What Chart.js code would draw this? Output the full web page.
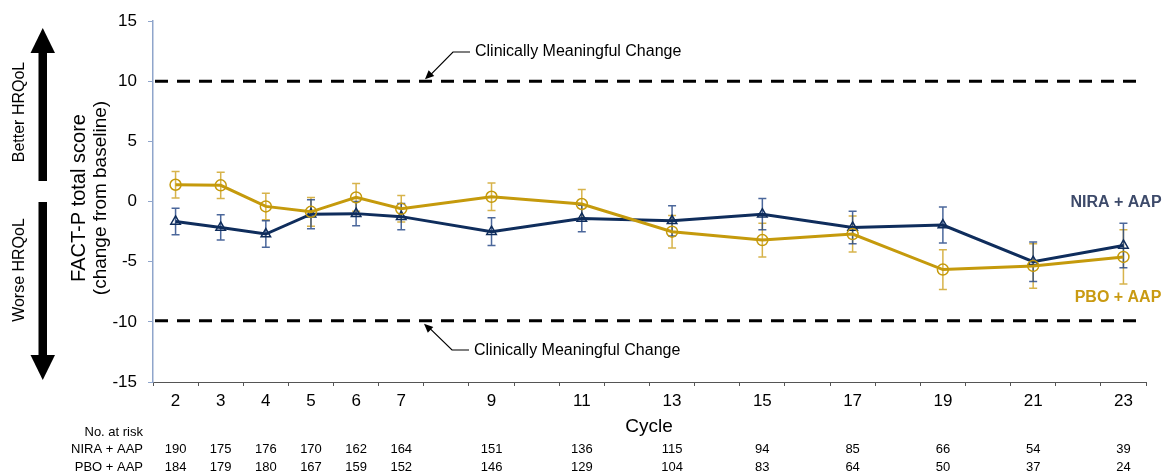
<!DOCTYPE html>
<html>
<head>
<meta charset="utf-8">
<script src="https://cdn.jsdelivr.net/npm/chart.js@4.4.0/dist/chart.umd.min.js"></script>
<style>
  html, body { margin: 0; padding: 0; background: #fff; }
  #wrap { width: 1166px; height: 472px; position: relative; }
</style>
</head>
<body>
<div id="wrap"><canvas id="chart"></canvas></div>
<script>
// data
const cycles = [2, 3, 4, 5, 6, 7, 9, 11, 13, 15, 17, 19, 21, 23];
const niraMean = [-1.65, -2.15, -2.7, -1.05, -1.0, -1.25, -2.5, -1.4, -1.6, -1.05, -2.15, -1.95, -5.0, -3.65];
const niraErr = [1.1, 1.05, 1.1, 1.2, 1.0, 1.1, 1.15, 1.1, 1.25, 1.3, 1.35, 1.5, 1.65, 1.85];
const pboMean = [1.4, 1.35, -0.4, -0.85, 0.35, -0.6, 0.4, -0.2, -2.5, -3.2, -2.7, -5.65, -5.35, -4.6];
const pboErr = [1.1, 1.1, 1.1, 1.2, 1.15, 1.1, 1.15, 1.2, 1.35, 1.4, 1.5, 1.65, 1.85, 2.25];
const niraAtRisk = [190, 175, 176, 170, 162, 164, 151, 136, 115, 94, 85, 66, 54, 39];
const pboAtRisk = [184, 179, 180, 167, 159, 152, 146, 129, 104, 83, 64, 50, 37, 24];
const mcidLines = [10, -9.9];

const FONT = '"Liberation Sans", Arial, sans-serif';
const NAVY = '#0f2d5c';
const GOLD = '#c59a0c';

// category axis: every cycle from first to last
const cycleLabels = [];
for (let c = cycles[0]; c <= cycles[cycles.length - 1]; c++) cycleLabels.push(String(c));

const toPoints = (vals) => cycles.map((c, i) => ({ x: String(c), y: vals[i] }));

const arrowHead = (ctx, fx, fy, tx, ty, len, w) => {
    const a = Math.atan2(ty - fy, tx - fx);
    ctx.beginPath();
    ctx.moveTo(tx, ty);
    ctx.lineTo(tx - len * Math.cos(a) + w * Math.sin(a), ty - len * Math.sin(a) - w * Math.cos(a));
    ctx.lineTo(tx - len * Math.cos(a) - w * Math.sin(a), ty - len * Math.sin(a) + w * Math.cos(a));
    ctx.closePath();
    ctx.fill();
};

const decor = {
    id: 'decor',
    beforeDatasetsDraw(chart) {
        const { ctx, chartArea, scales: { y } } = chart;

        // clinically meaningful change lines
        ctx.save();
        ctx.setLineDash([13, 9]);
        ctx.lineWidth = 3;
        ctx.strokeStyle = '#000';
        mcidLines.forEach(v => {
            const py = y.getPixelForValue(v);
            ctx.beginPath();
            ctx.moveTo(chartArea.left + 2, py);
            ctx.lineTo(chartArea.right - 6, py);
            ctx.stroke();
        });
        ctx.restore();

        // error bars
        chart.data.datasets.forEach((ds, di) => {
            const meta = chart.getDatasetMeta(di);
            ctx.save();
            ctx.strokeStyle = ds.errColor;
            ctx.lineWidth = 1.5;
            meta.data.forEach((pt, i) => {
                const m = ds.data[i].y, e = ds.errors[i];
                const top = y.getPixelForValue(m + e), bot = y.getPixelForValue(m - e);
                ctx.beginPath();
                ctx.moveTo(pt.x, top); ctx.lineTo(pt.x, bot);
                ctx.moveTo(pt.x - 4, top); ctx.lineTo(pt.x + 4, top);
                ctx.moveTo(pt.x - 4, bot); ctx.lineTo(pt.x + 4, bot);
                ctx.stroke();
            });
            ctx.restore();
        });
    },
    afterDraw(chart) {
        const { ctx, scales: { x, y } } = chart;
        ctx.save();
        ctx.fillStyle = '#000';
        ctx.strokeStyle = '#000';

        // annotations
        ctx.font = `16px ${FONT}`;
        ctx.textAlign = 'left';
        ctx.textBaseline = 'middle';
        const yTop = y.getPixelForValue(mcidLines[0]), yBot = y.getPixelForValue(mcidLines[1]);
        ctx.fillText('Clinically Meaningful Change', 475, 52);
        ctx.fillText('Clinically Meaningful Change', 474, 351);
        ctx.lineWidth = 1.2;
        ctx.beginPath();
        ctx.moveTo(470, 52); ctx.lineTo(453, 52); ctx.lineTo(429, yTop - 5);
        ctx.stroke();
        arrowHead(ctx, 453, 52, 425, yTop - 2, 9, 4);
        ctx.beginPath();
        ctx.moveTo(469, 350); ctx.lineTo(452, 350); ctx.lineTo(428, yBot + 6);
        ctx.stroke();
        arrowHead(ctx, 452, 350, 424, yBot + 3, 9, 4);

        // left side arrows
        ctx.fillRect(38.5, 50, 8.5, 131);
        ctx.beginPath(); ctx.moveTo(30.5, 53); ctx.lineTo(55, 53); ctx.lineTo(42.75, 28); ctx.closePath(); ctx.fill();
        ctx.fillRect(38.5, 202, 8.5, 156);
        ctx.beginPath(); ctx.moveTo(30.5, 355); ctx.lineTo(55, 355); ctx.lineTo(42.75, 380); ctx.closePath(); ctx.fill();

        const vtext = (txt, cx, cy, font) => {
            ctx.save();
            ctx.translate(cx, cy);
            ctx.rotate(-Math.PI / 2);
            ctx.font = font;
            ctx.textAlign = 'center';
            ctx.textBaseline = 'middle';
            ctx.fillText(txt, 0, 0);
            ctx.restore();
        };
        vtext('Better HRQoL', 20, 112, `16px ${FONT}`);
        vtext('Worse HRQoL', 20, 270, `16px ${FONT}`);
        vtext('FACT-P total score', 79, 198, `20px ${FONT}`);
        vtext('(change from baseline)', 101, 198, `19px ${FONT}`);

        // x title
        ctx.font = `19px ${FONT}`;
        ctx.textAlign = 'center';
        ctx.fillText('Cycle', 649, 427);

        // series labels
        ctx.font = `bold 16px ${FONT}`;
        ctx.fillStyle = '#3d4a6a';
        ctx.fillText('NIRA + AAP', 1116, 203);
        ctx.fillStyle = '#c99a12';
        ctx.fillText('PBO + AAP', 1118, 298);

        // number at risk table
        ctx.fillStyle = '#000';
        ctx.font = `13px ${FONT}`;
        ctx.textAlign = 'right';
        ctx.fillText('No. at risk', 143, 432);
        ctx.fillText('NIRA + AAP', 143, 449);
        ctx.fillText('PBO + AAP', 143, 467);
        ctx.textAlign = 'center';
        cycles.forEach((c, i) => {
            const px = x.getPixelForValue(String(c));
            ctx.fillText(String(niraAtRisk[i]), px, 449);
            ctx.fillText(String(pboAtRisk[i]), px, 467);
        });
        ctx.restore();
    }
};

const ctx = document.getElementById('chart').getContext('2d');
new Chart(ctx, {
    type: 'line',
    data: {
        datasets: [{
            label: 'PBO + AAP',
            data: toPoints(pboMean),
            errors: pboErr,
            errColor: 'rgba(205,160,30,0.8)',
            borderColor: GOLD,
            borderWidth: 3,
            pointStyle: 'circle',
            pointRadius: 5.5,
            pointBorderWidth: 1.5,
            pointBorderColor: GOLD,
            pointBackgroundColor: 'rgba(0,0,0,0)',
            tension: 0,
            order: 1
        }, {
            label: 'NIRA + AAP',
            data: toPoints(niraMean),
            errors: niraErr,
            errColor: 'rgba(30,65,130,0.8)',
            borderColor: NAVY,
            borderWidth: 3,
            pointStyle: 'triangle',
            pointRadius: 5.5,
            pointBorderWidth: 1.5,
            pointBorderColor: NAVY,
            pointBackgroundColor: 'rgba(0,0,0,0)',
            tension: 0,
            order: 2
        }]
    },
    options: {
        responsive: true,
        maintainAspectRatio: false,
        animation: false,
        layout: { padding: { top: 20, right: 20, left: 0, bottom: 0 } },
        plugins: { legend: { display: false }, tooltip: { enabled: false } },
        scales: {
            x: {
                type: 'category',
                labels: cycleLabels,
                offset: true,
                grid: { offset: true, drawOnChartArea: false, drawTicks: true, tickLength: 4, color: '#555' },
                border: { color: '#555', width: 1 },
                ticks: {
                    autoSkip: false,
                    maxRotation: 0,
                    padding: 5,
                    color: '#000',
                    font: { size: 17, family: FONT },
                    callback(v) {
                        const c = +this.getLabelForValue(v);
                        return (c <= 7 || c % 2 === 1) ? String(c) : '';
                    }
                },
                afterFit(s) { s.height = 90; }
            },
            y: {
                min: -15,
                max: 15,
                ticks: { stepSize: 5, padding: 11, color: '#000', font: { size: 17, family: FONT } },
                grid: { drawOnChartArea: false, drawTicks: true, tickLength: 5, color: '#8fa5cb' },
                border: { color: '#8fa5cb', width: 1.5 },
                afterFit(s) { s.width = 153; }
            }
        }
    },
    plugins: [decor]
});
</script>
</body>
</html>
